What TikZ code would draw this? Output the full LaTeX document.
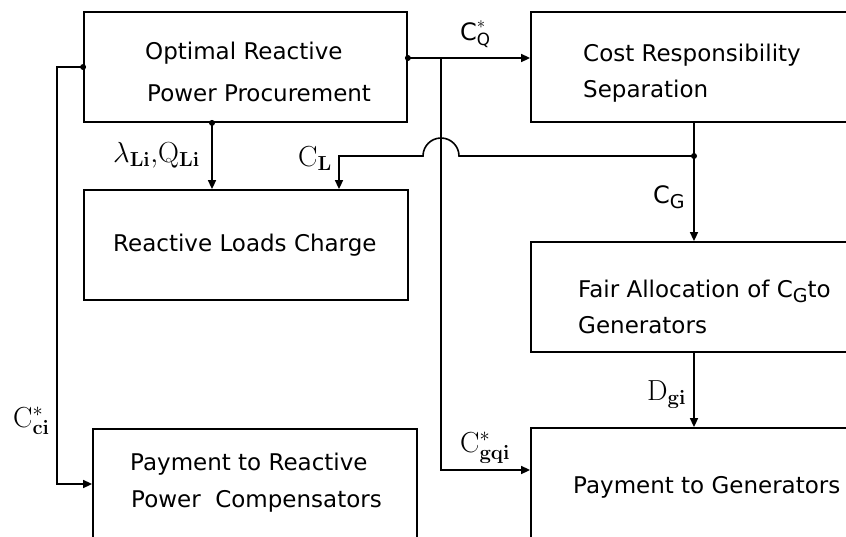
\RequirePackage{fix-cm}
\documentclass[tikz,border=0pt]{standalone}
\usepackage{amsmath}
\usepackage[no-math]{fontspec}
\setmainfont{DejaVu Sans}
\usetikzlibrary{arrows.meta,calc}
\begin{document}
\begin{tikzpicture}[x=1pt,y=-1pt,
  box/.style={draw, line width=1.8pt, rectangle, inner sep=0pt},
  conn/.style={line width=1.6pt},
  arr/.style={conn, -{Triangle[length=9pt,width=8pt]}},
  txt/.style={anchor=base west, inner sep=0pt, font=\fontsize{23}{23}\selectfont},
  lbl/.style={anchor=base west, inner sep=0pt, font=\fontsize{29}{29}\selectfont},
  slbl/.style={anchor=base west, inner sep=0pt, font=\fontsize{24}{24}\selectfont},
  dot/.style={circle, fill, inner sep=0pt, minimum size=6pt}]
\useasboundingbox (0,0) rectangle (846,536);
\fill[white] (0,0) rectangle (846,536);
\clip (0,0) rectangle (846,536);
% boxes
\node[box, minimum width=323pt, minimum height=110pt] (opt) at (245.5,67) {};
\node[box, minimum width=349pt, minimum height=110pt] (crs) at (705.5,67) {};
\node[box, minimum width=324pt, minimum height=110pt] (rlc) at (246,245) {};
\node[box, minimum width=349pt, minimum height=110pt] (fair) at (705.5,297) {};
\node[box, minimum width=349pt, minimum height=132pt] (pgen) at (705.5,494) {};
\node[box, minimum width=324pt, minimum height=132pt] (pcomp) at (255,495) {};
% texts
\node[txt] (t1) at (145,59) {Optimal Reactive};
\node[txt] (t2) at (147,101) {Power Procurement};
\node[txt] (t3) at (583,61) {Cost Responsibility};
\node[txt] (t4) at (583,97) {Separation};
\node[txt] (t5) at (113,251) {Reactive Loads Charge};
\node[txt] (t6) at (578,297) {Fair Allocation of C\raisebox{-5pt}{\fontsize{19}{19}\selectfont G}to};
\node[txt] (t7) at (578,333) {Generators};
\node[txt] (t8) at (573,493) {Payment to Generators};
\node[txt] (t9) at (130,470) {Payment to Reactive};
\node[txt] (t10) at (131,507) {Power\ \ Compensators};
% junctions
\coordinate (j1) at (441,58);
\coordinate (j2) at (694,156);
% connectors
\draw[arr] (opt.west) -- ++(-26,0) |- ([yshift=11pt]pcomp.west);
\draw[arr] ([yshift=9pt]opt.east) -- ([yshift=9pt]crs.west);
\draw[arr] (j1) |- ([yshift=24pt]pgen.west);
\draw[arr] ([xshift=-33.5pt]opt.south) -- ([xshift=-34pt]rlc.north);
\draw[arr] ([xshift=-11.5pt]crs.south) -- ([xshift=-11.5pt]fair.north);
\draw[arr] (j2) -- (459,156) arc[start angle=0, end angle=180, radius=18pt] -- (339,156) -- ([xshift=93pt]rlc.north);
\draw[arr] ([xshift=-11.5pt]fair.south) -- ([xshift=-11.5pt]pgen.north);
% dots
\node[dot] (d1) at (opt.west) {};
\node[dot] (d2) at ([yshift=9pt]opt.east) {};
\node[dot] (d3) at ([xshift=-33.5pt]opt.south) {};
\node[dot] (d4) at (j2) {};
% labels
\node[slbl] (lq) at (460,40) {$\text{C}^{*}_{\text{Q}}$};
\node[lbl] (llq) at (113,162) {$\lambda_{\mathbf{Li}},\!\mathrm{Q}_{\mathbf{Li}}$};
\node[lbl] (ll) at (298,166) {$\mathrm{C}_{\mathbf{L}}$};
\node[slbl] (lg) at (653,203) {C\raisebox{-5pt}{\fontsize{19}{19}\selectfont G}};
\node[lbl] (ld) at (647,400) {$\mathrm{D}_{\mathbf{gi}}$};
\node[lbl] (lgq) at (460,452) {$\mathrm{C}^{*}_{\mathbf{gqi}}$};
\node[lbl] (lci) at (13,427) {$\mathrm{C}^{*}_{\mathbf{ci}}$};
\end{tikzpicture}
\end{document}
